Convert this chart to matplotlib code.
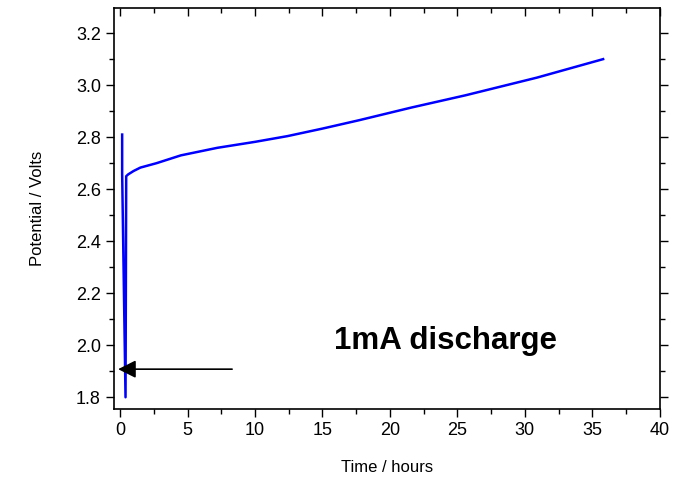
#!/usr/bin/env python3

import numpy as np
import matplotlib.pyplot as plt
from matplotlib.ticker import MultipleLocator
from matplotlib import rcParams
rcParams['font.family'] = 'sans-serif'
rcParams['font.sans-serif'] = ['Liberation Sans', 'DejaVu Sans']

# discharge curve
t_hours = [0.15, 0.15, 0.40, 0.45, 0.6, 1.0, 1.5, 2.7, 4.5, 7.2, 10.0,
           12.4, 15.0, 17.7, 21.6, 25.6, 30.9, 35.8]
potential = [2.81, 2.66, 1.80, 2.65, 2.657, 2.67, 2.683, 2.70, 2.73, 2.759, 2.782,
             2.804, 2.833, 2.865, 2.914, 2.961, 3.029, 3.10]

arrow_start = (8.3, 1.908)
arrow_end = (-0.15, 1.908)
label_text = '1mA discharge'
label_pos = (24.1, 2.015)

fig = plt.figure(figsize=(6.83, 4.8), dpi=100)
ax = fig.add_axes([0.167, 0.148, 0.799, 0.835])
ax.plot(t_hours, potential, color='#0000ff', lw=1.8)

ax.annotate('', xy=arrow_end, xytext=arrow_start,
            arrowprops=dict(arrowstyle='-|>', color='black', lw=1.2,
                            mutation_scale=27, shrinkA=0, shrinkB=0))
ax.text(*label_pos, label_text, fontsize=22.5, fontweight='bold',
        ha='center', va='center')

ax.set_xlim(-0.45, 40)
ax.set_ylim(1.755, 3.296)
ax.xaxis.set_major_locator(MultipleLocator(5))
ax.xaxis.set_minor_locator(MultipleLocator(2.5))
ax.yaxis.set_major_locator(MultipleLocator(0.2))
ax.yaxis.set_minor_locator(MultipleLocator(0.1))

ax.set_xlabel('Time / hours', size=12, labelpad=15)
ax.set_ylabel('Potential / Volts', size=12, labelpad=22)
ax.tick_params(axis='both', which='both', labelsize=13, direction='out')
ax.tick_params(which='major', length=6, width=1)
ax.tick_params(which='minor', length=3.5, width=1)
ax.tick_params(axis='both', which='both', top=True, right=True)
# mirrored ticks drawn inward on top and right, like the original
for t in ax.xaxis.get_major_ticks() + ax.xaxis.get_minor_ticks():
    t.tick2line.set_marker(3)
for t in ax.yaxis.get_major_ticks() + ax.yaxis.get_minor_ticks():
    t.tick2line.set_marker(1)
for s in ax.spines.values():
    s.set_linewidth(1.2)

plt.savefig('out.png', dpi=100)
